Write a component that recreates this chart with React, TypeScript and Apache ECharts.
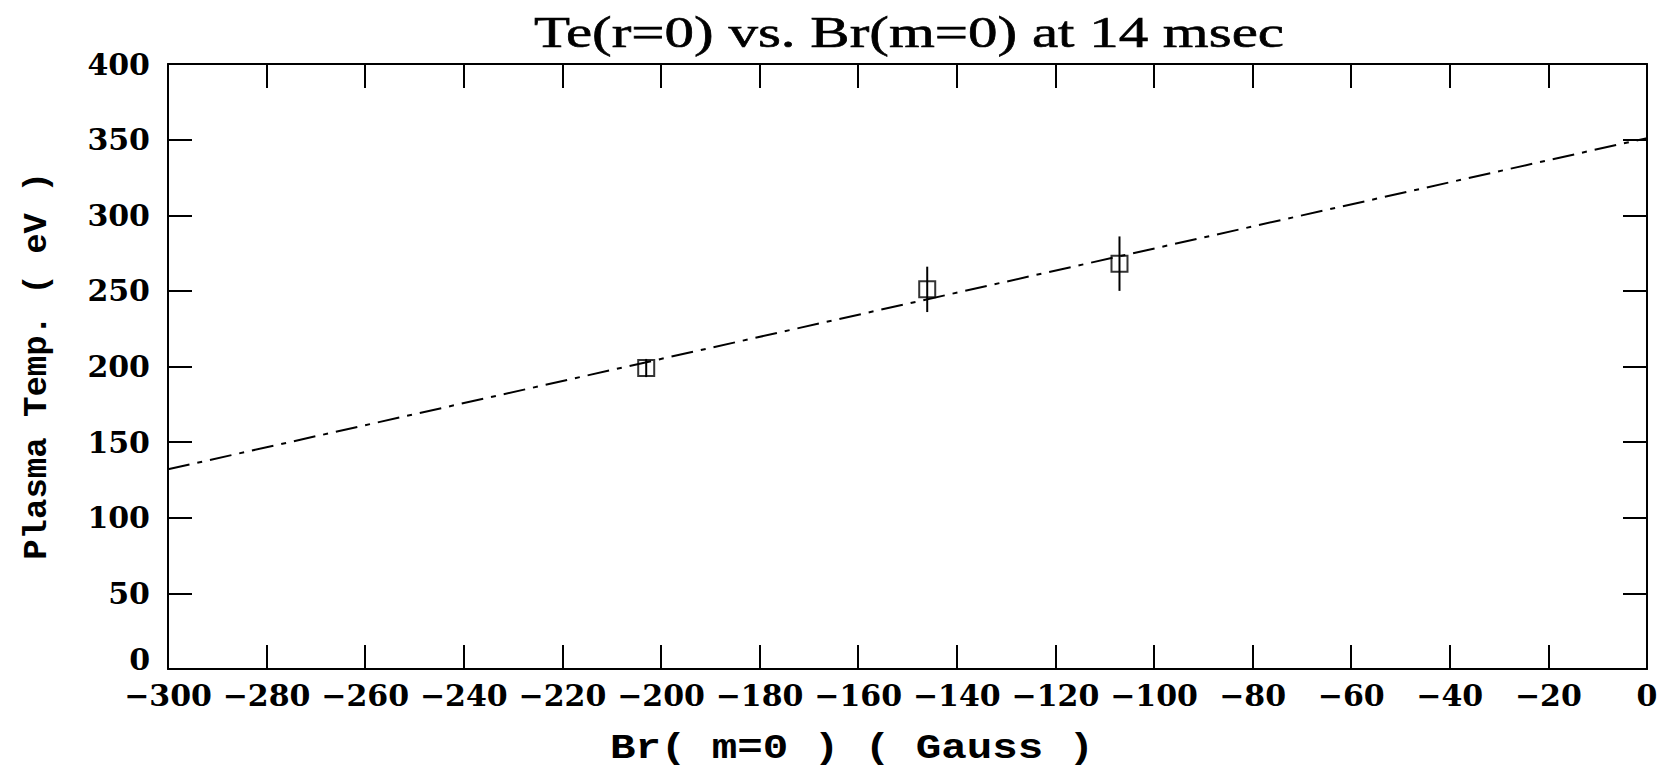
import React, { useEffect, useRef } from "react";
import * as echarts from "echarts";

const titleText = "Te(r=0) vs. Br(m=0) at 14 msec";
const xAxisTitle = "Br( m=0 ) ( Gauss )";
const yAxisTitle = "Plasma Temp. ( eV )";

const brValues = [-203, -146, -107];
const teValues = [199, 251, 268];
const teErrors = [6, 15, 18];

const fitBr = [-300, 0];
const fitTe = [132, 351];

const xMin = -300;
const xMax = 0;
const xStep = 20;
const yMin = 0;
const yMax = 400;
const yStep = 50;

export default function App() {
  const ref = useRef<HTMLDivElement>(null);
  useEffect(() => {
    if (!ref.current) return;
    const chart = echarts.init(ref.current, null, { renderer: "svg" });
    const labelFont = "DejaVu Serif";
    const tickFontSize = 30;
    const axisLine = { show: true, onZero: false, lineStyle: { color: "#000", width: 2 } };
    const tickInside = { show: true, inside: true, length: 24, lineStyle: { color: "#000", width: 2 } };
    const fmt = (v: number) => (v < 0 ? "\u2212" + Math.abs(v) : String(v));
    const points = brValues.map((b, i) => [b, teValues[i]]);
    const errs = brValues.map((b, i) => [b, teValues[i] - teErrors[i], teValues[i] + teErrors[i]]);
    const labelStyle = { fontFamily: labelFont, fontWeight: "bold", fontSize: tickFontSize, color: "#000" };
    chart.setOption({
      animation: false,
      backgroundColor: "#fff",
      grid: { left: 168, right: 17, top: 64, bottom: 100, containLabel: false },
      xAxis: [
        {
          type: "value", min: xMin, max: xMax, interval: xStep, position: "bottom",
          axisLine, axisTick: tickInside, splitLine: { show: false },
          axisLabel: { ...labelStyle, margin: 11, formatter: fmt },
        },
        {
          type: "value", min: xMin, max: xMax, interval: xStep, position: "top",
          axisLine, axisTick: tickInside, splitLine: { show: false }, axisLabel: { show: false },
        },
      ],
      yAxis: [
        {
          type: "value", min: yMin, max: yMax, interval: yStep, position: "left",
          axisLine, axisTick: tickInside, splitLine: { show: false },
          axisLabel: {
            ...labelStyle, margin: 18,
            formatter: (v: number) => (v === 0 ? "{z|0}" : String(v)),
            rich: { z: { ...labelStyle, padding: [0, 0, 20, 0] } },
          },
        },
        {
          type: "value", min: yMin, max: yMax, interval: yStep, position: "right",
          axisLine, axisTick: tickInside, splitLine: { show: false }, axisLabel: { show: false },
        },
      ],
      graphic: [
        {
          type: "text", x: 909, y: 32, scaleX: 1.34,
          style: { text: titleText, font: "44px 'Liberation Serif'", fill: "#000", stroke: "#000", lineWidth: 0.6, align: "center", verticalAlign: "middle" },
        },
        {
          type: "text", x: 852, y: 748, scaleX: 1.18,
          style: { text: xAxisTitle, font: "bold 36px 'Liberation Mono'", fill: "#000", align: "center", verticalAlign: "middle" },
        },
        {
          type: "text", x: 37, y: 366, rotation: Math.PI / 2,
          style: { text: yAxisTitle, font: "bold 34px 'Liberation Mono'", fill: "#000", align: "center", verticalAlign: "middle" },
        },
      ],
      series: [
        {
          type: "line", data: fitBr.map((b, i) => [b, fitTe[i]]), symbol: "none",
          lineStyle: { color: "#000", width: 2, type: [22, 8, 5, 8] },
        },
        {
          type: "custom", data: errs,
          renderItem: (params: any, api: any) => {
            const top = api.coord([api.value(0), api.value(2)]);
            const bot = api.coord([api.value(0), api.value(1)]);
            return { type: "line", shape: { x1: top[0], y1: top[1], x2: bot[0], y2: bot[1] }, style: { stroke: "#000", lineWidth: 2 } };
          },
          z: 3,
        },
        {
          type: "scatter", data: points, symbol: "rect", symbolSize: 16,
          itemStyle: { color: "rgba(255,255,255,0)", borderColor: "#000", borderWidth: 2 }, z: 4,
        },
      ],
    });
    return () => chart.dispose();
  }, []);
  return <div ref={ref} style={{ position: "fixed", left: 0, top: 0, width: 1664, height: 769 }} />;
}
